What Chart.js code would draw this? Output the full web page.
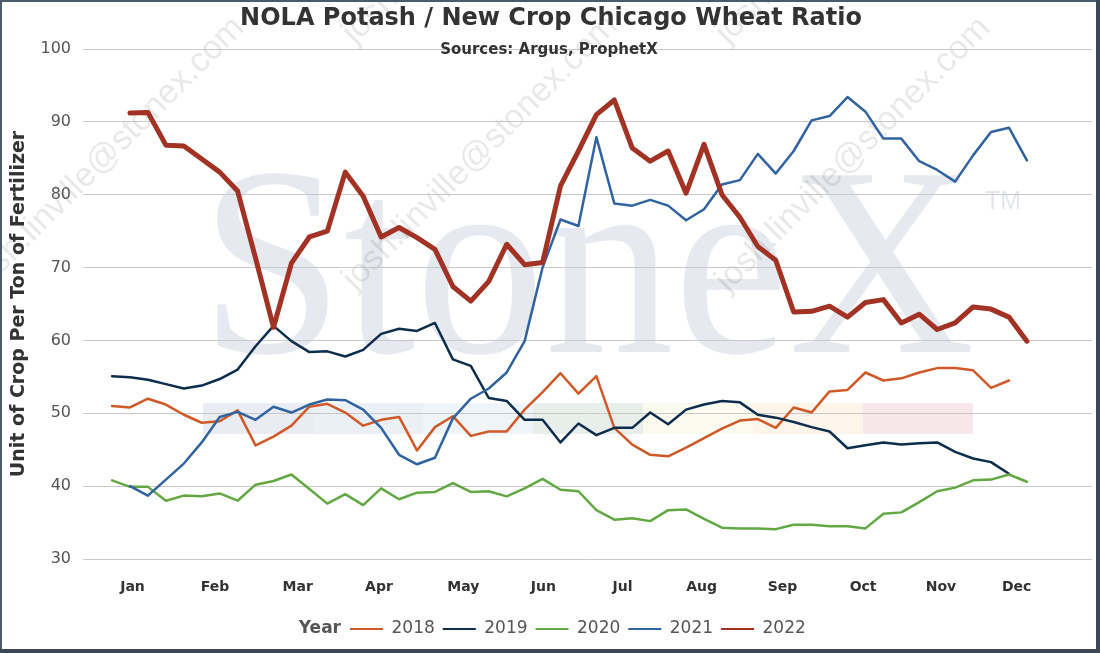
<!DOCTYPE html>
<html><head><meta charset="utf-8">
<script src="https://cdn.jsdelivr.net/npm/chart.js@4.4.1/dist/chart.umd.min.js"></script>
<style>html,body{margin:0;padding:0;background:#fff;overflow:hidden}canvas{display:block}</style>
</head><body>
<canvas id="c" width="1100" height="653" style="width:1100px;height:653px"></canvas>
<script>
// ---- data ----
const weeks = [0,1,2,3,4,5,6,7,8,9,10,11,12,13,14,15,16,17,18,19,20,21,22,23,24,25,26,27,28,29,30,31,32,33,34,35,36,37,38,39,40,41,42,43,44,45,46,47,48,49,50,51];
const monthLabels = ['Jan','Feb','Mar','Apr','May','Jun','Jul','Aug','Sep','Oct','Nov','Dec'];
const monthTicks = [1.14, 5.74, 10.35, 14.88, 19.58, 24.04, 28.46, 32.87, 37.38, 41.87, 46.21, 50.43];
const yearLabels = ['2018','2019','2020','2021','2022'];

const v2018 = [51.0,50.8,52.0,51.2,49.8,48.7,48.9,50.4,45.6,46.8,48.3,50.9,51.3,50.1,48.3,49.1,49.5,44.9,48.1,49.6,46.9,47.5,47.5,50.5,52.9,55.5,52.7,55.1,48.0,45.7,44.3,44.1,45.3,46.6,47.9,49.0,49.2,48.0,50.8,50.1,53.0,53.2,55.6,54.5,54.8,55.6,56.2,56.2,55.9,53.5,54.5];
const v2019 = [55.1,54.95,54.6,54.0,53.4,53.8,54.7,56.0,59.2,62.0,59.9,58.4,58.5,57.8,58.7,60.9,61.6,61.3,62.4,57.4,56.5,52.1,51.7,49.1,49.1,46.0,48.6,47.0,48.0,48.0,50.1,48.5,50.5,51.2,51.7,51.5,49.8,49.4,48.8,48.1,47.5,45.2,45.6,46.0,45.7,45.9,46.0,44.7,43.8,43.3,41.7];
const v2020 = [40.8,39.9,39.9,38.0,38.7,38.6,39.0,38.0,40.2,40.7,41.6,39.6,37.6,38.9,37.4,39.7,38.2,39.1,39.2,40.4,39.2,39.3,38.6,39.7,41.0,39.5,39.3,36.7,35.4,35.6,35.2,36.7,36.8,35.5,34.3,34.2,34.2,34.1,34.7,34.7,34.5,34.5,34.2,36.2,36.4,37.8,39.3,39.8,40.8,40.9,41.6,40.6];
const v2021 = [null,40.0,38.7,40.9,43.1,46.0,49.5,50.2,49.1,50.9,50.1,51.2,51.9,51.8,50.5,48.0,44.3,43.0,43.9,49.3,52.0,53.4,55.6,59.9,70.0,76.6,75.7,87.9,78.8,78.5,79.3,78.5,76.5,78.0,81.4,82.0,85.6,82.9,86.0,90.2,90.8,93.4,91.4,87.7,87.7,84.6,83.4,81.8,85.4,88.6,89.2,84.7];
const v2022 = [null,91.2,91.3,86.8,86.7,84.9,83.1,80.5,71.3,61.8,70.6,74.2,75.0,83.1,79.8,74.2,75.5,74.1,72.5,67.4,65.4,68.1,73.2,70.4,70.7,81.2,86.0,91.0,93.0,86.4,84.6,86.0,80.2,86.9,80.0,76.9,72.9,71.0,63.9,64.0,64.7,63.2,65.2,65.6,62.4,63.6,61.5,62.4,64.6,64.3,63.2,59.9];

const seriesValues = [v2018, v2019, v2020, v2021, v2022];
const seriesColors = ['#cf5a28', '#0d2d4d', '#62a843', '#3063a0', '#a23223'];
const seriesWidths = [2.5, 2.5, 2.5, 2.5, 5];

function toPoints(vals) { return vals.map((v, k) => ({ x: weeks[k], y: v })); }

Chart.defaults.font.family = '"DejaVu Sans", Verdana, sans-serif';

const deco = {
  id: 'deco',
  afterLayout(chart) {
    const lg = chart.legend;
    if (!lg || !lg.lineWidths) return;
    const pad = lg.options.labels.padding;
    const start = (lg.left + pad + lg.right - lg.lineWidths[0]) / 2;
    const dx = 350 - start;
    lg.left += dx; lg.right += dx;
  },
  beforeDraw(chart) {
    const ctx = chart.ctx;
    ctx.save();
    ctx.fillStyle = '#ffffff';
    ctx.fillRect(0, 0, chart.width, chart.height);
    // colour bands of logo
    const bands = ['#e9ecf2','#ebeff6','#eff4f9','#e8efea','#fafaee','#fdf5ea','#f8e7ea'];
    bands.forEach((c, k) => { ctx.fillStyle = c; ctx.fillRect(203 + k * 110, 403, 110, 31); });
    // StoneX word
    ctx.fillStyle = '#e6e9ef';
    ctx.font = '270px "Liberation Serif", serif';
    ctx.textBaseline = 'alphabetic';
    ctx.textAlign = 'left';
    const w = ctx.measureText('StoneX').width;
    ctx.save();
    ctx.translate(200, 352);
    ctx.scale(775 / w, 1);
    ctx.fillText('StoneX', 0, 0);
    ctx.restore();
    ctx.font = '25px "Liberation Sans", sans-serif';
    ctx.fillStyle = '#e3e6ec';
    ctx.fillText('TM', 985, 209);
    // diagonal e-mail watermark
    ctx.font = '34px "Liberation Sans", sans-serif';
    ctx.fillStyle = 'rgba(0,0,0,0.09)';
    [[-18, 293], [355, 291], [728, 293], [355, 45], [728, 45]].forEach(([x, y]) => {
      ctx.save(); ctx.translate(x, y); ctx.rotate(-Math.PI / 4);
      ctx.fillText('josh.linville@stonex.com', 0, 0);
      ctx.restore();
    });
    ctx.restore();
  },
  afterDraw(chart) {
    const ctx = chart.ctx;
    ctx.save();
    ctx.textAlign = 'center';
    ctx.textBaseline = 'middle';
    ctx.fillStyle = '#333333';
    ctx.font = 'bold 24px "DejaVu Sans", Verdana, sans-serif';
    ctx.fillText('NOLA Potash / New Crop Chicago Wheat Ratio', 551, 19);
    ctx.font = 'bold 15px "DejaVu Sans", Verdana, sans-serif';
    ctx.fillText('Sources: Argus, ProphetX', 549, 50);
    // legend title
    const lg = chart.legend;
    const pad = lg.options.labels.padding;
    const x0 = (lg.left + pad + lg.right - lg.lineWidths[0]) / 2;
    ctx.font = 'bold 17px "DejaVu Sans", Verdana, sans-serif';
    ctx.fillStyle = '#555555';
    ctx.textAlign = 'right';
    ctx.fillText('Year', x0 - 9, lg.top + pad + 8.5);
    // frame
    ctx.strokeStyle = '#4a5b69';
    ctx.lineWidth = 2;
    ctx.strokeRect(1, 1, 1098, 651);
    ctx.fillStyle = '#3a4855';
    ctx.fillRect(1096, 0, 4, 653);
    ctx.fillRect(0, 649, 1100, 4);
    ctx.restore();
  }
};

new Chart(document.getElementById('c'), {
  type: 'line',
  data: {
    datasets: yearLabels.map((lab, i) => ({
      label: lab,
      data: toPoints(seriesValues[i]),
      borderColor: seriesColors[i],
      backgroundColor: seriesColors[i],
      borderWidth: seriesWidths[i],
      pointRadius: 0,
      pointHoverRadius: 0,
      tension: 0,
      fill: false,
      spanGaps: false,
      borderJoinStyle: 'round',
      borderCapStyle: 'round',
      order: 4 - i
    }))
  },
  options: {
    responsive: false,
    animation: false,
    events: [],
    layout: { padding: { top: 49, right: 8, bottom: 5.5, left: 0 } },
    plugins: {
      title: { display: false },
      tooltip: { enabled: false },
      legend: {
        position: 'bottom',
        labels: {
          boxWidth: 33,
          boxHeight: 2,
          padding: 8,
          color: '#555555',
          font: { size: 17 },
          generateLabels: (chart) => chart.data.datasets.map((ds, i) => ({
            text: ds.label, fillStyle: ds.borderColor, strokeStyle: ds.borderColor,
            lineWidth: 0, hidden: false, datasetIndex: i, fontColor: '#555555'
          }))
        }
      }
    },
    scales: {
      x: {
        type: 'linear',
        min: -1.62,
        max: 54.63,
        grid: { display: false, drawTicks: false },
        border: { display: false },
        afterBuildTicks: (s) => { s.ticks = monthTicks.map(v => ({ value: v })); },
        afterFit: (s) => { s.height = 53.5; },
        ticks: {
          autoSkip: false, maxRotation: 0, minRotation: 0, padding: 20,
          color: '#333333', font: { size: 14, weight: 'bold' },
          callback: (v, i) => monthLabels[i]
        }
      },
      y: {
        min: 30, max: 100,
        afterFit: (s) => { s.width = 83; },
        grid: { color: '#c8c8c8', drawTicks: false, lineWidth: 1 },
        border: { display: false },
        ticks: { stepSize: 10, padding: 12, color: '#555555', font: { size: 16 } },
        title: {
          display: true, text: 'Unit of Crop Per Ton of Fertilizer', color: '#333333',
          font: { size: 19, weight: 'bold' }, padding: { top: 8, bottom: 0 }
        }
      }
    }
  },
  plugins: [deco]
});
</script>
</body></html>
